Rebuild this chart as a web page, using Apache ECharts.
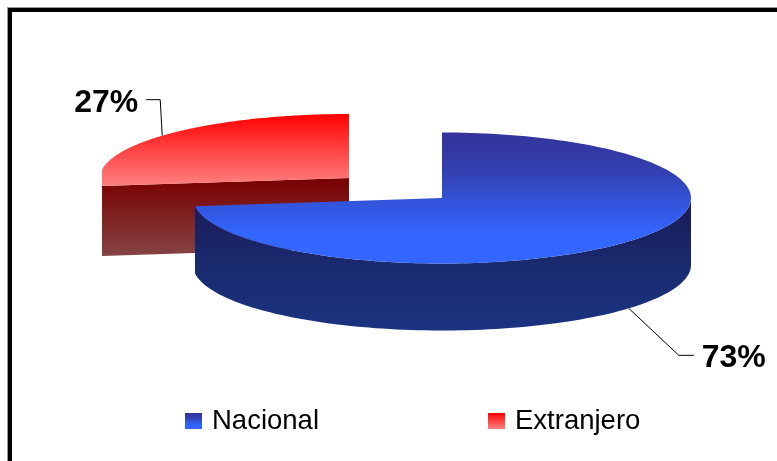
<!DOCTYPE html>
<html><head><meta charset="utf-8">
<style>html,body{margin:0;padding:0;background:#fff}#c{width:777px;height:461px}</style>
<script src="https://cdn.jsdelivr.net/npm/echarts@6/dist/echarts.min.js"></script>
</head><body><div id="c"></div>
<script>
const categories = ['Nacional', 'Extranjero'];
const shares = [73, 27];
const percentLabels = ['73%', '27%'];

const pie = {cx: 442, cy: 198, rx: 249, depth: 67};
const radiiY = [65.5, 64];
const offsets = [[0, 0], [-93, -20]];
const leaders = [[[50, 47], [65, 47]], [[-2, -36], [-16, -36]]];
const labelAnchors = [[73, 48], [-24, -35]];
const topColors = [
  [[0, '#333399'], [0.3, '#3340b0'], [0.55, '#3355dd'], [0.78, '#3366ff'], [1, '#3366ff']],
  [[0, '#ff0000'], [0.5, '#ff4444'], [1, '#ff8080']]
];
const wallColors = [
  [[0, '#1a1a55'], [0.5, '#1a2a6e'], [1, '#1a3380']],
  [[0, '#7a0000'], [0.5, '#7f2222'], [1, '#854444']]
];

const grad = stops => ({type: 'linear', x: 0, y: 0, x2: 0, y2: 1,
  colorStops: stops.map(s => ({offset: s[0], color: s[1]}))});
const total = shares.reduce((a, b) => a + b, 0);
const startAngles = shares.map((_, i) => shares.slice(0, i).reduce((a, b) => a + b, 0) / total * 2 * Math.PI);

function rim(c, a, i) { return [c[0] + pie.rx * Math.sin(a), c[1] - radiiY[i] * Math.cos(a)]; }

function makeRenderer(i) {
  return function (params, api) {
    const share = api.value(0) / total * 2 * Math.PI;
    const a0 = startAngles[i], a1 = a0 + share;
    const c = [pie.cx + offsets[i][0], pie.cy + offsets[i][1]];
    const n = 160;
    const e0 = rim(c, a0, i);
    const arc = [];
    for (let k = 0; k <= n; k++) {
      const p = rim(c, a0 + (a1 - a0) * k / n, i);
      // the exploded slice is cut off straight at the end of its cut face
      if (i === 1) p[0] = Math.max(p[0], e0[0]);
      arc.push(p);
    }
    const children = [];
    const d = pie.depth;

    if (i === 0) {
      // Outer wall: the part of the rim that faces the viewer
      const wallPts = arc.filter((_, k) => Math.cos(a0 + (a1 - a0) * k / n) <= 0.02);
      children.push({type: 'polygon', shape: {points:
        wallPts.concat(wallPts.slice().reverse().map(p => [p[0], p[1] + d]))},
        style: {fill: grad(wallColors[i])}});
    } else {
      // Cut face of the exploded slice
      children.push({type: 'polygon', shape: {points: [
        e0, c, [c[0], c[1] + d + 3], [e0[0], e0[1] + d + 3]]},
        style: {fill: grad(wallColors[i])}});
    }
    // Top face
    children.push({type: 'polygon', shape: {points: [c].concat(arc)},
      style: {fill: grad(topColors[i])}});

    // Leader and label
    const mid = (a0 + a1) / 2;
    const m = rim(c, mid, i);
    if (Math.cos(mid) < 0) m[1] += d;
    const pts = [m].concat(leaders[i].map(p => [m[0] + p[0], m[1] + p[1]]));
    children.push({type: 'polyline', shape: {points: pts},
      style: {stroke: '#000', lineWidth: 1, fill: null}});
    const la = labelAnchors[i];
    children.push({type: 'text', style: {
      text: percentLabels[i], x: m[0] + la[0], y: m[1] + la[1] + 2,
      fill: '#000', font: 'bold 32px "Liberation Sans", Arial, sans-serif',
      align: i === 0 ? 'left' : 'right', verticalAlign: 'middle'}});
    return {type: 'group', children};
  };
}

const order = [1, 0];
const chart = echarts.init(document.getElementById('c'), null, {renderer: 'canvas'});
chart.setOption({
  animation: false,
  backgroundColor: '#fff',
  tooltip: {show: false},
  legend: {
    data: categories, left: 180, top: 402, itemWidth: 17, itemHeight: 16, itemGap: 169,
    icon: 'rect', selectedMode: false,
    textStyle: {fontFamily: '"Liberation Sans", Arial, sans-serif', fontSize: 27.5, color: '#000', padding: [2, 0, 0, 5]}
  },
  graphic: [
    {type: 'rect', z: -3, shape: {x: 7, y: 7, width: 800, height: 500}, style: {fill: '#999'}},
    {type: 'rect', z: -2, shape: {x: 8, y: 8, width: 800, height: 500}, style: {fill: '#000'}},
    {type: 'rect', z: -1, shape: {x: 12, y: 12, width: 800, height: 500}, style: {fill: '#fff'}}
  ],
  series: order.map(i => ({
    type: 'custom', name: categories[i], coordinateSystem: 'none', silent: true,
    itemStyle: {color: grad(topColors[i])},
    data: [[shares[i]]], renderItem: makeRenderer(i), clip: false
  }))
});
</script></body></html>
